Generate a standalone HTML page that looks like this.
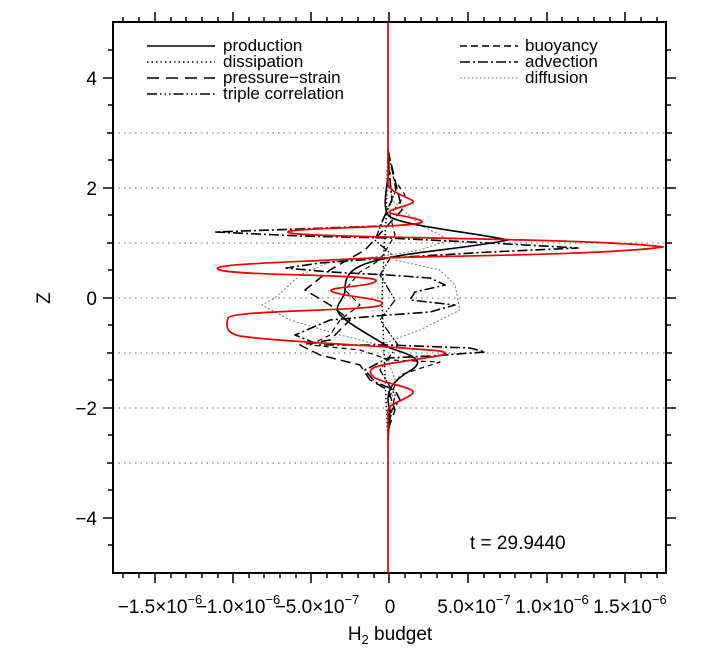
<!DOCTYPE html>
<html><head><meta charset="utf-8"><style>
body{margin:0;background:#fff}
svg{display:block}
text{font-family:"Liberation Sans",sans-serif;fill:#000}
</style></head><body>
<svg width="722" height="649" viewBox="0 0 722 649">
<g stroke="#999" stroke-width="1.5" stroke-dasharray="1.5,4">
<line x1="113" y1="133" x2="666" y2="133"/>
<line x1="113" y1="188" x2="666" y2="188"/>
<line x1="113" y1="243" x2="666" y2="243"/>
<line x1="113" y1="298" x2="666" y2="298"/>
<line x1="113" y1="353" x2="666" y2="353"/>
<line x1="113" y1="408" x2="666" y2="408"/>
<line x1="113" y1="463" x2="666" y2="463"/>
</g>
<rect x="113" y="22" width="553" height="551" fill="none" stroke="#000" stroke-width="2"/>
<g stroke="#000" stroke-width="1.5">
<path d="M113 78h-10M113 188h-10M113 298h-10M113 408h-10M113 518h-10M113 133h-6M113 243h-6M113 353h-6M113 463h-6M113 50h-5M113 105h-5M113 160h-5M113 215h-5M113 270h-5M113 325h-5M113 380h-5M113 435h-5M113 490h-5M113 545h-5"/>
<path d="M666 78h10M666 188h10M666 298h10M666 408h10M666 518h10M666 133h6M666 243h6M666 353h6M666 463h6M666 50h5M666 105h5M666 160h5M666 215h5M666 270h5M666 325h5M666 380h5M666 435h5M666 490h5M666 545h5"/>
<path d="M155 573v10M233 573v10M311 573v10M389 573v10M468 573v10M547 573v10M625 573v10M155 22v-10M233 22v-10M311 22v-10M389 22v-10M468 22v-10M547 22v-10M625 22v-10"/>
<path d="M123 573v5M139 573v5M171 573v5M186 573v5M202 573v5M218 573v5M249 573v5M264 573v5M280 573v5M296 573v5M327 573v5M342 573v5M358 573v5M374 573v5M405 573v5M421 573v5M437 573v5M452 573v5M484 573v5M500 573v5M515 573v5M531 573v5M562 573v5M578 573v5M594 573v5M610 573v5M641 573v5M657 573v5"/>
<path d="M123 22v-5M139 22v-5M171 22v-5M186 22v-5M202 22v-5M218 22v-5M249 22v-5M264 22v-5M280 22v-5M296 22v-5M327 22v-5M342 22v-5M358 22v-5M374 22v-5M405 22v-5M421 22v-5M437 22v-5M452 22v-5M484 22v-5M500 22v-5M515 22v-5M531 22v-5M562 22v-5M578 22v-5M594 22v-5M610 22v-5M641 22v-5M657 22v-5"/>
</g>
<g font-size="19" text-anchor="end">
<text x="97" y="85">4</text><text x="97" y="195">2</text><text x="97" y="305">0</text>
<text x="97" y="415">−2</text><text x="97" y="525">−4</text>
</g>
<text x="44" y="298" font-size="19" transform="rotate(-90 44 298)" text-anchor="middle" dy="6">Z</text>
<g font-size="19" text-anchor="middle">
<text x="160" y="613">−1.5×10<tspan font-size="13" dy="-9">−6</tspan></text>
<text x="238" y="613">−1.0×10<tspan font-size="13" dy="-9">−6</tspan></text>
<text x="317" y="613">−5.0×10<tspan font-size="13" dy="-9">−7</tspan></text>
<text x="390" y="613">0</text>
<text x="474" y="613">5.0×10<tspan font-size="13" dy="-9">−7</tspan></text>
<text x="552" y="613">1.0×10<tspan font-size="13" dy="-9">−6</tspan></text>
<text x="630" y="613">1.5×10<tspan font-size="13" dy="-9">−6</tspan></text>
<text x="390" y="640">H<tspan font-size="13" dy="4">2</tspan><tspan dy="-4"> budget</tspan></text>
</g>
<text x="470" y="549" font-size="19">t  =  29.9440</text>
<g stroke="#000" stroke-width="1.5" fill="none">
<line x1="147" y1="46" x2="215" y2="46"/>
<line x1="147" y1="62" x2="215" y2="62" stroke-dasharray="1.5,3"/>
<line x1="147" y1="78" x2="215" y2="78" stroke-dasharray="12,7"/>
<line x1="147" y1="94" x2="215" y2="94" stroke-dasharray="10,3,1.5,3,1.5,3,1.5,3"/>
<line x1="460" y1="46" x2="518" y2="46" stroke-dasharray="7,4"/>
<line x1="460" y1="62" x2="518" y2="62" stroke-dasharray="10,3,2,3"/>
<line x1="460" y1="78" x2="518" y2="78" stroke="#999" stroke-dasharray="1.5,2.5"/>
</g>
<g font-size="17">
<text x="223" y="51">production</text><text x="223" y="67">dissipation</text>
<text x="223" y="83">pressure−strain</text><text x="223" y="99">triple correlation</text>
<text x="525" y="51">buoyancy</text><text x="525" y="67">advection</text><text x="525" y="83">diffusion</text>
</g>
<g fill="none" stroke-linejoin="round">
<path stroke="#777" stroke-width="1" stroke-dasharray="2,2" d="M388 150 L392 200 L420 225 L450 240 L420 250 L390 255 L330 262 L300 275 L275 298 L262 305 L290 320 L340 335 L380 345 L420 330 L460 310 L455 285 L440 270 L395 260 M388 360 L395 380 L388 420 L388 460"/>
<path stroke="#000" stroke-width="1.5" stroke-dasharray="10,5" d="M388 150 L395 180 L402 210 L388 225 L365 250 L330 270 L305 290 L330 305 L350 320 L330 340 L300 345 L320 355 L360 365 L370 380 L388 390 L395 410 L388 430"/>
<path stroke="#000" stroke-width="1.2" stroke-dasharray="5,4" d="M388 170 L405 195 L390 215 L395 235 L380 260 L360 272 L345 290 L360 305 L340 320 L330 335 L310 345 L360 350 L390 360 L440 362 L400 375 L388 400"/>
<path stroke="#000" stroke-width="1.6" stroke-dasharray="10,3,2,3" d="M388 160 L392 200 L380 226 L300 229 L215 232 L300 236 L388 238 L490 243 L578 248 L490 252 L388 258 L320 263 L286 268 L330 272 L388 275 L430 278 L445 285 L415 292 L410 300 L455 305 L430 312 L388 315 L330 320 L295 335 L320 345 L388 345 L470 348 L485 352 L430 356 L388 358 L365 370 L375 382 L395 390 L400 400 L388 415"/>
<path stroke="#000" stroke-width="1.3" stroke-dasharray="8,2,1.5,2,1.5,2" d="M388 150 L396 190 L385 215 L375 240 L392 255 L380 275 L395 300 L380 320 L398 345 L380 370 L395 395 L388 430"/>
<path stroke="#000" stroke-width="1.5" stroke-dasharray="1.5,2.5" d="M388 150 L386 220 L384 250 L382 300 L384 350 L386 400 L388 440"/>
<path stroke="#000" stroke-width="1.6" d="M388 150 C392 180 380 200 388 215 C395 225 470 232 508 240 C470 248 410 252 388 258 C350 265 345 275 345 290 C345 300 332 305 340 315 C350 325 375 338 390 348 C410 355 430 360 408 372 C392 382 384 392 390 410 L388 440"/>
<path stroke="#e00" stroke-width="1.7" d="M388 22 L388 185 C392 195 420 200 412 203 C405 207 385 210 390 213 C400 216 430 220 420 223 C400 228 270 228 290 233 C310 238 600 238 663 247 C600 256 400 256 350 259 C300 262 200 264 220 270 C240 276 380 274 376 281 C372 287 320 287 333 292 C345 297 390 299 381 305 C372 311 230 310 228 318 C226 325 225 333 240 336 C280 342 390 346 440 351 C460 355 420 358 400 362 C370 366 365 370 375 378 C385 384 420 388 412 394 C405 400 390 403 388 410 L388 573"/>
</g>
</svg>
</body></html>
